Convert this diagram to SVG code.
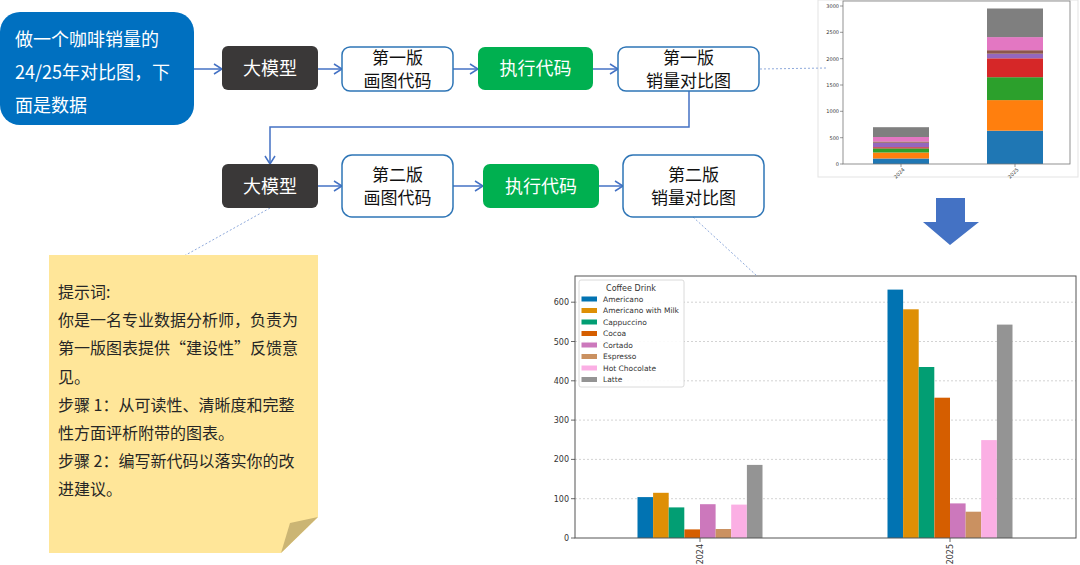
<svg xmlns="http://www.w3.org/2000/svg" width="1080" height="565" viewBox="0 0 1080 565">
<defs>
<style>
.cn{font-family:"Noto Sans CJK SC","Noto Sans",sans-serif;}
.wt{fill:#ffffff;font-size:18px;}
.bk{fill:#111111;font-size:17px;}
.box{fill:#ffffff;stroke:#2E75B6;stroke-width:1.5;}
.llm{fill:#3A3838;}
.run{fill:#00B050;}
.conn{fill:none;stroke:#4472C4;stroke-width:1.5;}
.dot{fill:none;stroke:#8FAADC;stroke-width:1;stroke-dasharray:2,2;}
.note{font-family:"Noto Sans CJK SC","Noto Sans",sans-serif;font-size:16px;fill:#262626;}
.mpl{font-family:"DejaVu Sans",sans-serif;fill:#333333;}
.grid{stroke:#c8c8c8;stroke-width:0.8;stroke-dasharray:2,2;}
</style>
<marker id="arr" viewBox="0 0 10 12" refX="9" refY="6" markerWidth="10" markerHeight="12" markerUnits="userSpaceOnUse" orient="auto">
<path d="M1,1 L9,6 L1,11" fill="none" stroke="#4472C4" stroke-width="1.5"/>
</marker>
</defs>
<rect width="1080" height="565" fill="#ffffff"/>

<!-- top-right stacked chart -->
<g id="chart1">
<rect x="818" y="0" width="260" height="177" fill="#ffffff" stroke="#e3e3e3" stroke-width="1"/>
<g fill="#1f77b4"><rect x="873" y="158.5" width="56" height="5.5"/><rect x="987" y="130.7" width="56" height="33.3"/></g>
<g fill="#ff7f0e"><rect x="873" y="152.5" width="56" height="6"/><rect x="987" y="100.1" width="56" height="30.6"/></g>
<g fill="#2ca02c"><rect x="873" y="148.4" width="56" height="4.1"/><rect x="987" y="77.2" width="56" height="22.9"/></g>
<g fill="#d62728"><rect x="873" y="147.2" width="56" height="1.2"/><rect x="987" y="58.3" width="56" height="18.9"/></g>
<g fill="#9467bd"><rect x="873" y="142.7" width="56" height="4.5"/><rect x="987" y="53.7" width="56" height="4.6"/></g>
<g fill="#8c564b"><rect x="873" y="141.5" width="56" height="1.2"/><rect x="987" y="50.2" width="56" height="3.5"/></g>
<g fill="#e377c2"><rect x="873" y="137" width="56" height="4.5"/><rect x="987" y="37.1" width="56" height="13.1"/></g>
<g fill="#7f7f7f"><rect x="873" y="127.2" width="56" height="9.8"/><rect x="987" y="8.5" width="56" height="28.6"/></g>
<rect x="843" y="1" width="227" height="163" fill="none" stroke="#777777" stroke-width="0.8"/>
<g stroke="#555555" stroke-width="0.6">
<line x1="840" y1="164" x2="843" y2="164"/><line x1="840" y1="137.7" x2="843" y2="137.7"/><line x1="840" y1="111.3" x2="843" y2="111.3"/><line x1="840" y1="85" x2="843" y2="85"/><line x1="840" y1="58.7" x2="843" y2="58.7"/><line x1="840" y1="32.3" x2="843" y2="32.3"/><line x1="840" y1="6" x2="843" y2="6"/>
<line x1="901" y1="164" x2="901" y2="167"/><line x1="1015" y1="164" x2="1015" y2="167"/>
</g>
<g class="mpl" font-size="5" text-anchor="end">
<text x="839" y="165.8">0</text><text x="839" y="139.5">500</text><text x="839" y="113.1">1000</text><text x="839" y="86.8">1500</text><text x="839" y="60.5">2000</text><text x="839" y="34.1">2500</text><text x="839" y="7.8">3000</text>
<text transform="translate(905,170) rotate(-45)">2024</text>
<text transform="translate(1019,170) rotate(-45)">2025</text>
</g>
</g>

<!-- big down arrow -->
<polygon id="downArrow" points="936,198 965,198 965,222 979,222 950,245 923,222 936,222" fill="#4472C4"/>

<!-- bottom grouped chart -->
<g id="chart2">
<g class="grid">
<line x1="575" y1="302.2" x2="1076" y2="302.2"/><line x1="575" y1="341.5" x2="1076" y2="341.5"/><line x1="575" y1="380.8" x2="1076" y2="380.8"/><line x1="575" y1="420.1" x2="1076" y2="420.1"/><line x1="575" y1="459.4" x2="1076" y2="459.4"/><line x1="575" y1="498.7" x2="1076" y2="498.7"/>
</g>
<g>
<rect x="637.5" y="497.1" width="15.6" height="40.9" fill="#0173b2"/>
<rect x="653.1" y="492.8" width="15.6" height="45.2" fill="#de8f05"/>
<rect x="668.7" y="507.4" width="15.6" height="30.6" fill="#029e73"/>
<rect x="684.4" y="529.4" width="15.6" height="8.6" fill="#d55e00"/>
<rect x="700" y="504.2" width="15.6" height="33.8" fill="#cc78bc"/>
<rect x="715.6" y="529" width="15.6" height="9" fill="#ca9161"/>
<rect x="731.2" y="504.6" width="15.6" height="33.4" fill="#fbafe4"/>
<rect x="746.9" y="464.9" width="15.6" height="73.1" fill="#949494"/>
<rect x="887.5" y="289.6" width="15.6" height="248.4" fill="#0173b2"/>
<rect x="903.1" y="309.3" width="15.6" height="228.7" fill="#de8f05"/>
<rect x="918.7" y="367" width="15.6" height="171" fill="#029e73"/>
<rect x="934.4" y="397.7" width="15.6" height="140.3" fill="#d55e00"/>
<rect x="950" y="503.4" width="15.6" height="34.6" fill="#cc78bc"/>
<rect x="965.6" y="511.7" width="15.6" height="26.3" fill="#ca9161"/>
<rect x="981.2" y="440.1" width="15.6" height="97.9" fill="#fbafe4"/>
<rect x="996.9" y="324.6" width="15.6" height="213.4" fill="#949494"/>
</g>
<rect x="575" y="276" width="501" height="262" fill="none" stroke="#555555" stroke-width="1"/>
<g stroke="#444444" stroke-width="0.8">
<line x1="571" y1="538" x2="575" y2="538"/><line x1="571" y1="498.7" x2="575" y2="498.7"/><line x1="571" y1="459.4" x2="575" y2="459.4"/><line x1="571" y1="420.1" x2="575" y2="420.1"/><line x1="571" y1="380.8" x2="575" y2="380.8"/><line x1="571" y1="341.5" x2="575" y2="341.5"/><line x1="571" y1="302.2" x2="575" y2="302.2"/>
<line x1="700" y1="538" x2="700" y2="542"/><line x1="950" y1="538" x2="950" y2="542"/>
</g>
<g class="mpl" font-size="8" text-anchor="end">
<text x="569" y="541">0</text><text x="569" y="501.7">100</text><text x="569" y="462.4">200</text><text x="569" y="423.1">300</text><text x="569" y="383.8">400</text><text x="569" y="344.5">500</text><text x="569" y="305.2">600</text>
<text transform="translate(703,544) rotate(-90)">2024</text>
<text transform="translate(953,544) rotate(-90)">2025</text>
</g>
<g id="legend">
<rect x="579" y="280" width="105" height="107" rx="2" fill="#ffffff" fill-opacity="0.9" stroke="#d0d0d0" stroke-width="0.8"/>
<text class="mpl" x="631" y="291" font-size="8" text-anchor="middle">Coffee Drink</text>
<rect x="581.5" y="296.5" width="15.5" height="5" fill="#0173b2"/>
<rect x="581.5" y="308" width="15.5" height="5" fill="#de8f05"/>
<rect x="581.5" y="319.5" width="15.5" height="5" fill="#029e73"/>
<rect x="581.5" y="331" width="15.5" height="5" fill="#d55e00"/>
<rect x="581.5" y="342.5" width="15.5" height="5" fill="#cc78bc"/>
<rect x="581.5" y="354" width="15.5" height="5" fill="#ca9161"/>
<rect x="581.5" y="365.5" width="15.5" height="5" fill="#fbafe4"/>
<rect x="581.5" y="377" width="15.5" height="5" fill="#949494"/>
<g class="mpl" font-size="7.5">
<text x="603" y="301.8">Americano</text>
<text x="603" y="313.3">Americano with Milk</text>
<text x="603" y="324.8">Cappuccino</text>
<text x="603" y="336.3">Cocoa</text>
<text x="603" y="347.8">Cortado</text>
<text x="603" y="359.3">Espresso</text>
<text x="603" y="370.8">Hot Chocolate</text>
<text x="603" y="382.3">Latte</text>
</g>
</g>
</g>

<!-- connectors -->
<g id="connectors">
<line class="conn" x1="194" y1="69" x2="222" y2="69" marker-end="url(#arr)"/>
<line class="conn" x1="318" y1="69" x2="342" y2="69" marker-end="url(#arr)"/>
<line class="conn" x1="453" y1="69" x2="478" y2="69" marker-end="url(#arr)"/>
<line class="conn" x1="593" y1="69" x2="618" y2="69" marker-end="url(#arr)"/>
<polyline class="conn" points="689,91 689,127 270,127 270,164" marker-end="url(#arr)"/>
<line class="conn" x1="318" y1="186" x2="342" y2="186" marker-end="url(#arr)"/>
<line class="conn" x1="453" y1="186" x2="483" y2="186" marker-end="url(#arr)"/>
<line class="conn" x1="599" y1="186" x2="623" y2="186" marker-end="url(#arr)"/>
<line class="dot" x1="760" y1="69" x2="827" y2="68"/>
<line class="dot" x1="693" y1="217" x2="757" y2="276"/>
<line class="dot" x1="270" y1="208" x2="184" y2="256"/>
</g>

<!-- nodes -->
<g id="request">
<rect x="0" y="12" width="194" height="113" rx="20" fill="#0070C0"/>
<text class="cn wt" x="15" y="46">做一个咖啡销量的</text>
<text class="cn wt" x="15" y="79">24/25年对比图，下</text>
<text class="cn wt" x="15" y="112">面是数据</text>
</g>
<g id="llm1">
<rect class="llm" x="222" y="46" width="96" height="44" rx="6"/>
<text class="cn wt" x="270" y="74.5" text-anchor="middle">大模型</text>
</g>
<g id="code1">
<rect class="box" x="342" y="47" width="111" height="44" rx="8"/>
<text class="cn bk" x="397.5" y="63.5" text-anchor="middle">第一版</text>
<text class="cn bk" x="397.5" y="86.5" text-anchor="middle">画图代码</text>
</g>
<g id="run1">
<rect class="run" x="478" y="47" width="115" height="43" rx="7"/>
<text class="cn wt" x="535.5" y="75" text-anchor="middle">执行代码</text>
</g>
<g id="chartv1">
<rect class="box" x="618" y="47" width="141" height="44" rx="8"/>
<text class="cn bk" x="688.5" y="63.5" text-anchor="middle">第一版</text>
<text class="cn bk" x="688.5" y="86.5" text-anchor="middle">销量对比图</text>
</g>
<g id="llm2">
<rect class="llm" x="222" y="164" width="96" height="44" rx="6"/>
<text class="cn wt" x="270" y="192.5" text-anchor="middle">大模型</text>
</g>
<g id="code2">
<rect class="box" x="342" y="155" width="111" height="62" rx="10"/>
<text class="cn bk" x="397.5" y="181" text-anchor="middle">第二版</text>
<text class="cn bk" x="397.5" y="204" text-anchor="middle">画图代码</text>
</g>
<g id="run2">
<rect class="run" x="483" y="164" width="116" height="44" rx="7"/>
<text class="cn wt" x="541" y="192.5" text-anchor="middle">执行代码</text>
</g>
<g id="chartv2">
<rect class="box" x="623" y="155" width="141" height="62" rx="10"/>
<text class="cn bk" x="693.5" y="181" text-anchor="middle">第二版</text>
<text class="cn bk" x="693.5" y="204" text-anchor="middle">销量对比图</text>
</g>

<g id="prompt">
<path d="M49,255 H318 V517 L281,553 H49 Z" fill="#FFE699"/>
<polygon points="318,517 281,553 290,523" fill="#CBB574"/>
<text class="note" x="58" y="298">提示词:</text>
<text class="note" x="58" y="326.2">你是一名专业数据分析师，负责为</text>
<text class="note" x="58" y="354.4">第一版图表提供“建设性”反馈意</text>
<text class="note" x="58" y="382.6">见。</text>
<text class="note" x="58" y="410.8">步骤 1：从可读性、清晰度和完整</text>
<text class="note" x="58" y="439">性方面评析附带的图表。</text>
<text class="note" x="58" y="467.2">步骤 2：编写新代码以落实你的改</text>
<text class="note" x="58" y="495.4">进建议。</text>
</g>
</svg>
